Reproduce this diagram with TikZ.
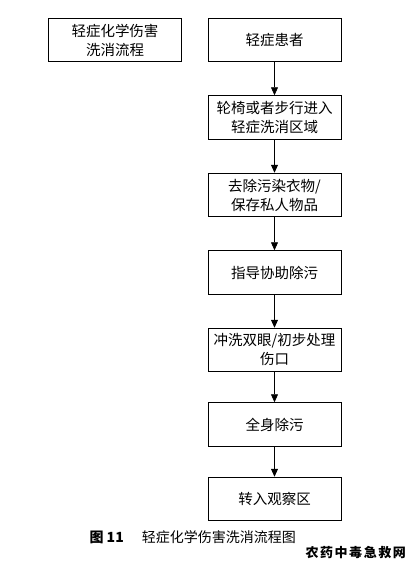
\documentclass[tikz,border=0pt]{standalone}
\usepackage{fontspec}
\setmainfont{Noto Sans CJK SC}
\newfontfamily\wmfont[LetterSpace=12]{Noto Sans CJK SC}
\usetikzlibrary{positioning,arrows.meta}

\begin{document}
\begin{tikzpicture}[
  x=1pt, y=1pt,
  node distance=33pt,
  box/.style={draw, line width=1pt, align=center, minimum width=133pt, minimum height=43.5pt, inner xsep=1pt, font=\fontsize{14.5}{19}\selectfont},
  arrow/.style={-{Triangle[length=8pt,width=7pt]}, line width=0.8pt}
]
\useasboundingbox (0,0) rectangle (416,-566);
\node[box] (titel) at (115,-40) {轻症化学伤害\\洗消流程};
\node[box] (huanzhe) at (274.5,-40) {轻症患者};
\node[box] (jinru) [below=of huanzhe] {轮椅或者步行进入\\轻症洗消区域};
\node[box] (yiwu) [below=of jinru] {去除污染衣物/\\保存私人物品};
\node[box] (zhidao) [below=of yiwu] {指导协助除污};
\node[box] (chongxi) [below=of zhidao] {冲洗双眼/初步处理\\伤口};
\node[box] (quanshen) [below=30pt of chongxi] {全身除污};
\node[box] (guancha) [below=30pt of quanshen] {转入观察区};
\draw[arrow] (huanzhe) -- (jinru);
\draw[arrow] (jinru) -- (yiwu);
\draw[arrow] (yiwu) -- (zhidao);
\draw[arrow] (zhidao) -- (chongxi);
\draw[arrow] (chongxi) -- (quanshen);
\draw[arrow] (quanshen) -- (guancha);
\node (tuming) [anchor=west, font=\fontsize{14}{16}\selectfont] at (86,-537) {{\bfseries 图 11}\hspace{1.3em}轻症化学伤害洗消流程图};
\node (shuiyin) [anchor=west, font=\fontsize{13}{15}\selectfont\bfseries] at (302,-553) {\wmfont 农药中毒急救网};
\end{tikzpicture}
\end{document}
